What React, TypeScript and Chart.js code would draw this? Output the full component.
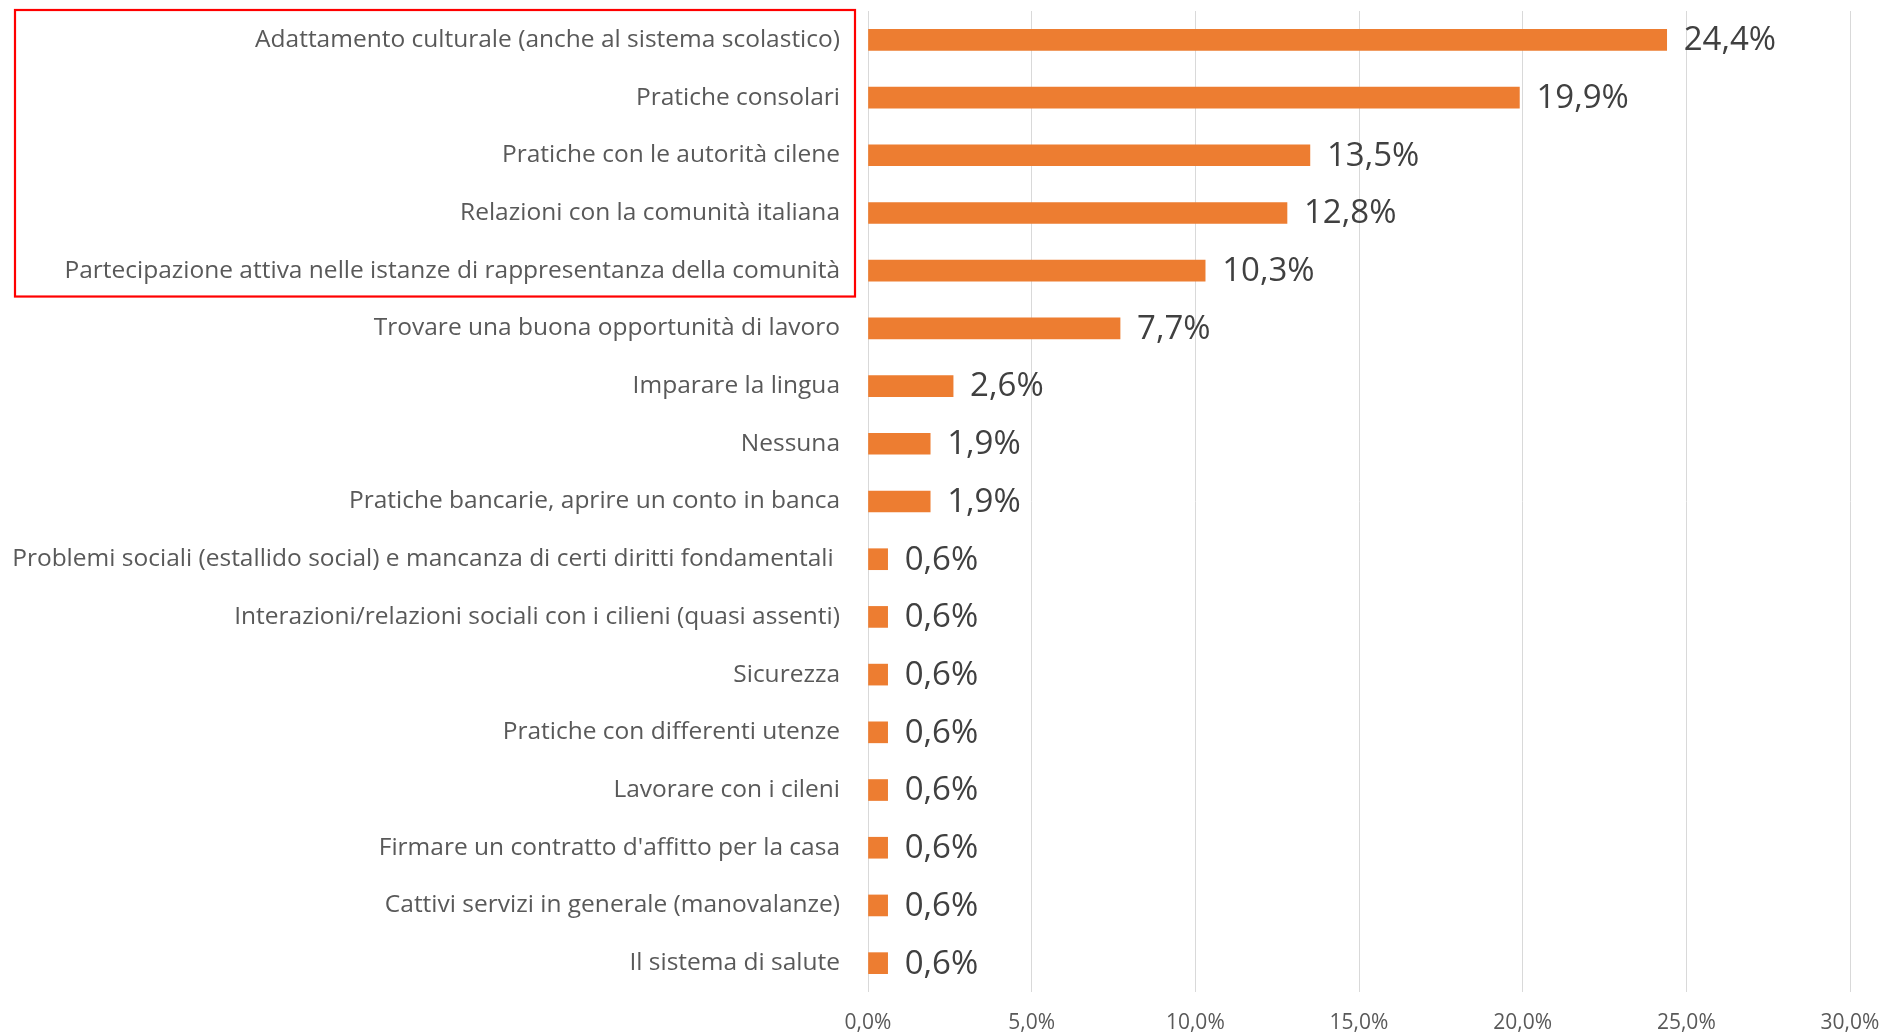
import React, { useEffect, useRef } from "react";
import { Chart, registerables } from "chart.js";

Chart.register(...registerables);

const categories: string[] = [
  "Adattamento culturale (anche al sistema scolastico)",
  "Pratiche consolari",
  "Pratiche con le autorità cilene",
  "Relazioni con la comunità italiana",
  "Partecipazione attiva nelle istanze di rappresentanza della comunità",
  "Trovare una buona opportunità di lavoro",
  "Imparare la lingua",
  "Nessuna",
  "Pratiche bancarie, aprire un conto in banca",
  "Problemi sociali (estallido social) e mancanza di certi diritti fondamentali ",
  "Interazioni/relazioni sociali con i cilieni (quasi assenti)",
  "Sicurezza",
  "Pratiche con differenti utenze",
  "Lavorare con i cileni",
  "Firmare un contratto d'affitto per la casa",
  "Cattivi servizi in generale (manovalanze)",
  "Il sistema di salute",
];

const values: number[] = [24.4, 19.9, 13.5, 12.8, 10.3, 7.7, 2.6, 1.9, 1.9, 0.6, 0.6, 0.6, 0.6, 0.6, 0.6, 0.6, 0.6];

const xTicks: number[] = [0, 5, 10, 15, 20, 25, 30];

const highlightedCount = 5;

const fmt = (v: number) => v.toFixed(1).replace(".", ",") + "%";

const dataLabelPlugin = {
  id: "dataLabels",
  afterDatasetsDraw(chart: any) {
    const ctx = chart.ctx;
    const meta = chart.getDatasetMeta(0);
    ctx.save();
    ctx.font = "33px 'Open Sans'";
    ctx.fillStyle = "#404040";
    ctx.textAlign = "left";
    ctx.textBaseline = "middle";
    meta.data.forEach((bar: any, i: number) => {
      ctx.fillText(fmt(values[i]), bar.x + 17, bar.y + 1);
    });
    ctx.restore();
  },
};

const boxPlugin = {
  id: "highlightBox",
  afterDraw(chart: any) {
    const ctx = chart.ctx;
    const y = chart.scales.y;
    const band = y.getPixelForValue(1) - y.getPixelForValue(0);
    const top = y.getPixelForValue(0) - band / 2 - 1;
    const bottom = y.getPixelForValue(highlightedCount - 1) + band / 2 - 3;
    const left = 15;
    const right = chart.chartArea.left - 13;
    ctx.save();
    ctx.strokeStyle = "#FF0000";
    ctx.lineWidth = 2.2;
    ctx.strokeRect(left, top, right - left, bottom - top);
    ctx.restore();
  },
};

const zeroPad = (scale: any) => {
  scale.paddingTop = 0;
  scale.paddingBottom = 0;
  scale.paddingLeft = 0;
  scale.paddingRight = 0;
};

export default function App() {
  const ref = useRef<HTMLCanvasElement | null>(null);

  useEffect(() => {
    if (!ref.current) return;
    const chart = new Chart(ref.current, {
      type: "bar",
      data: {
        labels: categories,
        datasets: [
          {
            data: values,
            backgroundColor: "#ED7D31",
            borderWidth: 0,
            barThickness: 21,
          },
        ],
      },
      options: {
        indexAxis: "y",
        animation: false,
        responsive: false,
        maintainAspectRatio: false,
        layout: { padding: { top: 11, right: 35, left: 0, bottom: 0 } },
        plugins: {
          legend: { display: false },
          tooltip: { enabled: false },
        },
        scales: {
          x: {
            type: "linear",
            min: 0,
            max: 30,
            afterBuildTicks: (scale: any) => {
              scale.ticks = xTicks.map((v) => ({ value: v }));
            },
            afterFit: (scale: any) => {
              scale.height = 43;
              zeroPad(scale);
            },
            grid: { color: "#D9D9D9", lineWidth: 1, drawTicks: false },
            border: { display: false },
            ticks: {
              padding: 18,
              color: "#595959",
              font: { family: "'Open Sans'", size: 21 },
              callback: (v: any) => fmt(Number(v)),
            },
          },
          y: {
            type: "category",
            afterFit: (scale: any) => {
              scale.width = 868;
              zeroPad(scale);
            },
            grid: { display: false, drawTicks: false },
            border: { display: false },
            ticks: {
              padding: 28,
              color: "#595959",
              font: { family: "'Open Sans'", size: 24.5 },
              autoSkip: false,
            },
          },
        },
      },
      plugins: [dataLabelPlugin, boxPlugin],
    });
    return () => chart.destroy();
  }, []);

  return (
    <div style={{ position: "absolute", left: 0, top: 0, width: 1885, height: 1035, background: "#fff" }}>
      <canvas ref={ref} width={1885} height={1035} style={{ display: "block", width: 1885, height: 1035 }} />
    </div>
  );
}
